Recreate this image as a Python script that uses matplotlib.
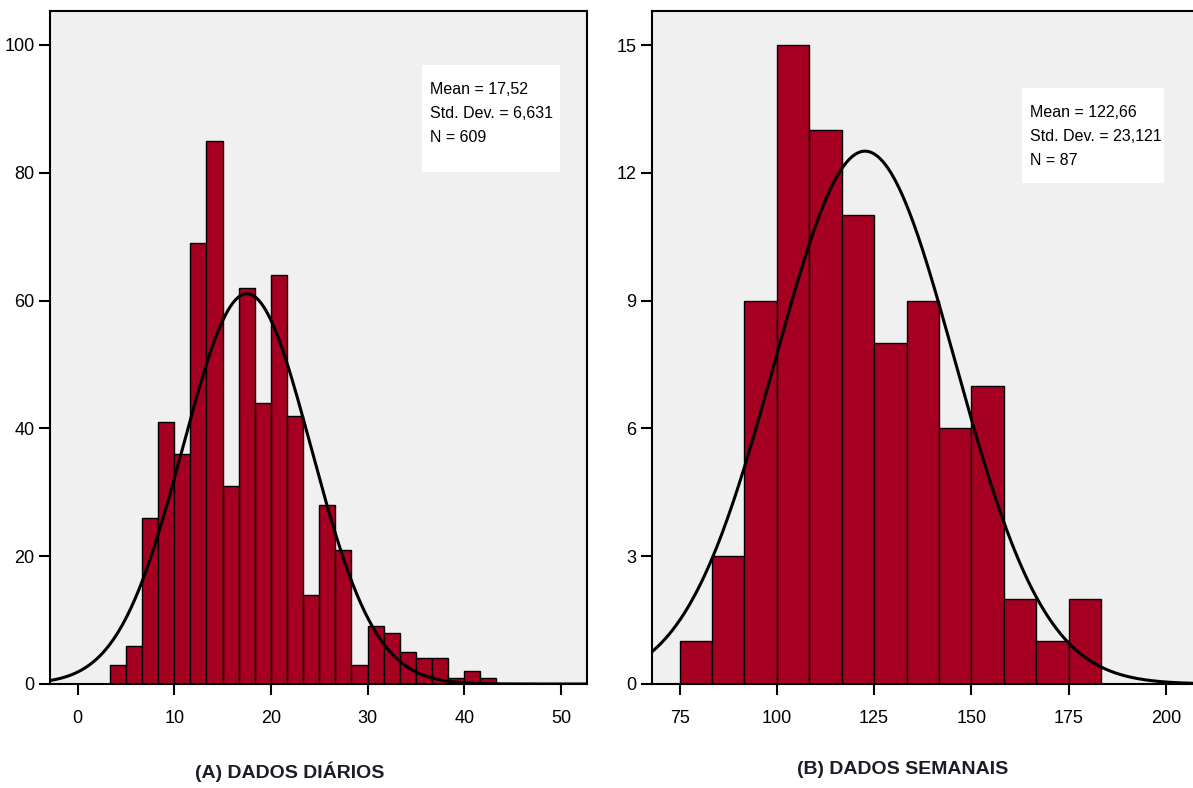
import numpy as np
import matplotlib
matplotlib.use('Agg')
import matplotlib.pyplot as plt

plt.rcParams['font.family'] = ['Liberation Sans Narrow', 'Liberation Sans', 'DejaVu Sans']

# daily data: 24 bins of width 5/3 starting at 10/3
daily_edges = np.linspace(10 / 3, 130 / 3, 25)
daily_counts = [3, 6, 26, 41, 36, 69, 85, 31, 62, 44, 64, 42,
                14, 28, 21, 3, 9, 8, 5, 4, 4, 1, 2, 1]
daily_mean, daily_sd, daily_n = 17.52, 6.631, 609
daily_stats = 'Mean = 17,52\nStd. Dev. = 6,631\nN = 609'

# weekly data: 13 bins of width 25/3 starting at 75
weekly_edges = np.linspace(75, 75 + 13 * 25 / 3, 14)
weekly_counts = [1, 3, 9, 15, 13, 11, 8, 9, 6, 7, 2, 1, 2]
weekly_mean, weekly_sd, weekly_n = 122.66, 23.121, 87
weekly_stats = 'Mean = 122,66\nStd. Dev. = 23,121\nN = 87'

bar_color = '#a50021'
bg_color = '#f0f0f0'

fig = plt.figure(figsize=(11.93, 7.88), dpi=100)
ax1 = fig.add_axes([50 / 1193, 104 / 788, 537 / 1193, 673 / 788])
ax2 = fig.add_axes([652 / 1193, 104 / 788, 545 / 1193, 673 / 788])


def draw_hist(ax, edges, counts, mean, sd, n, xlim, ylim, xticks, yticks, stats, box):
    edges = np.asarray(edges)
    widths = np.diff(edges)
    ax.set_facecolor(bg_color)
    ax.bar(edges[:-1], counts, width=widths, align='edge', color=bar_color,
           edgecolor='black', linewidth=1.0, zorder=2)
    xs = np.linspace(xlim[0], xlim[1], 400)
    ys = n * widths[0] / (sd * np.sqrt(2 * np.pi)) * np.exp(-0.5 * ((xs - mean) / sd) ** 2)
    ax.plot(xs, ys, color='black', linewidth=2.2, zorder=3, clip_on=True)
    ax.set_xlim(*xlim)
    ax.set_ylim(*ylim)
    ax.set_xticks(xticks)
    ax.set_yticks(yticks)
    ax.tick_params(direction='out', length=8, width=1.5, labelsize=13)
    ax.tick_params(axis='x', pad=11)
    ax.tick_params(axis='y', pad=3)
    for s in ax.spines.values():
        s.set_linewidth(1.5)
    # white stats box
    bx, by, bw, bh = box
    ax.add_patch(plt.Rectangle((bx, by), bw, bh, transform=ax.transAxes,
                               facecolor='white', edgecolor='none', zorder=4))
    ax.text(bx + 0.015, by + bh - 0.025, stats, transform=ax.transAxes,
            fontsize=11.5, va='top', ha='left', linespacing=1.75, zorder=5)


draw_hist(ax1, daily_edges, daily_counts, daily_mean, daily_sd, daily_n,
          (-2.85, 52.7), (0, 105.3), [0, 10, 20, 30, 40, 50],
          [0, 20, 40, 60, 80, 100], daily_stats,
          ((422 - 50) / 537, (684 - 172) / 673, 138 / 537, 107 / 673))
draw_hist(ax2, weekly_edges, weekly_counts, weekly_mean, weekly_sd, weekly_n,
          (67.9, 208.0), (0, 15.8), [75, 100, 125, 150, 175, 200],
          [0, 3, 6, 9, 12, 15], weekly_stats,
          ((1022 - 652) / 545, (684 - 183) / 673, 142 / 545, 95 / 673))

fig.text(290 / 1193, 1 - 772 / 788, '(A) DADOS DIÁRIOS', ha='center', va='center',
         fontsize=14, fontweight='bold', color='#1c1c28')
fig.text(903 / 1193, 1 - 769 / 788, '(B) DADOS SEMANAIS', ha='center', va='center',
         fontsize=14, fontweight='bold', color='#1c1c28')

fig.savefig('out.png', dpi=100, facecolor='white')
